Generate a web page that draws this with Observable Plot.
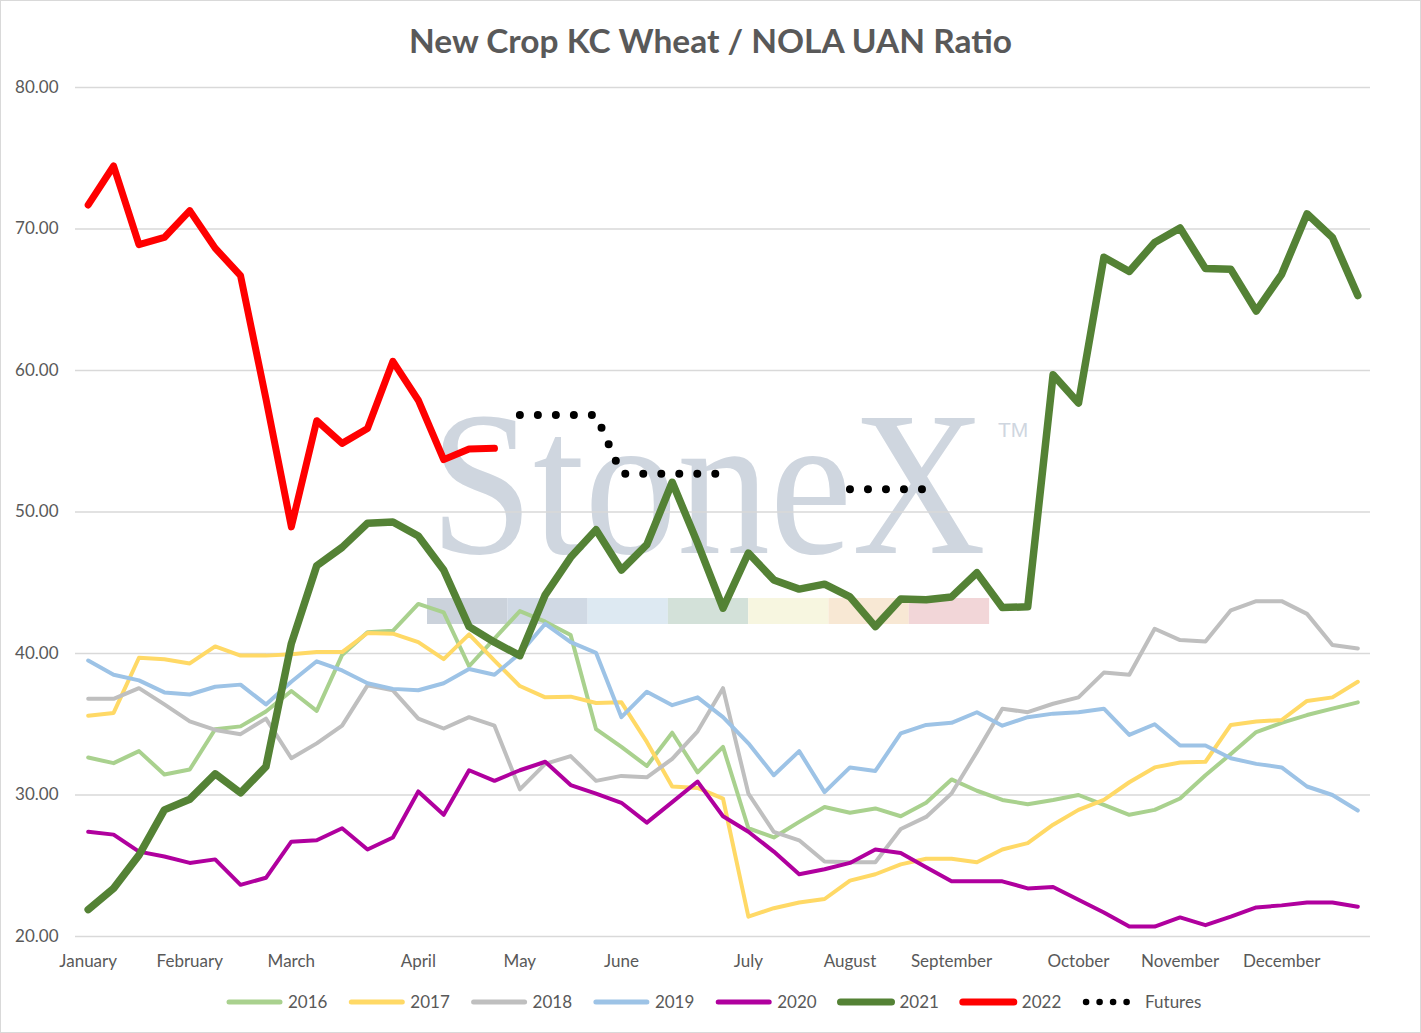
<!DOCTYPE html>
<html><head><meta charset="utf-8">
<script src="https://cdn.jsdelivr.net/npm/d3@7"></script>
<script src="https://cdn.jsdelivr.net/npm/@observablehq/plot@0.6"></script>
<style>
body{margin:0;background:#fff;}
#chart{position:relative;width:1421px;height:1033px;outline:1px solid #d9d9d9;outline-offset:-1px;overflow:hidden;font-family:Lato,sans-serif;background:#fff;}
#wm,#plot,#title,#legend{position:absolute;left:0;top:0;}
#title,#legend{pointer-events:none;}
</style></head><body>
<div id="chart">
<svg id="wm" width="1421" height="1033"></svg>
<div id="plot"></div>
<svg id="title" width="1421" height="90"></svg>
<svg id="legend" width="1421" height="1033"></svg>
</div>
<script>
const chartTitle = "New Crop KC Wheat / NOLA UAN Ratio";
const weeks = d3.range(51);
const yTicks = [20, 30, 40, 50, 60, 70, 80];
const monthTicks = [0, 4, 8, 13, 17, 21, 26, 30, 34, 39, 43, 47];
const monthLabels = ["January","February","March","April","May","June","July","August","September","October","November","December"];

const s2016 = [32.65,32.25,33.1,31.45,31.8,34.65,34.85,35.9,37.35,35.95,39.9,41.5,41.6,43.5,42.9,39.1,41.05,43.0,42.25,41.3,34.65,33.4,32.05,34.4,31.6,33.4,27.65,27.0,28.1,29.15,28.75,29.05,28.5,29.45,31.1,30.3,29.65,29.35,29.65,30.0,29.3,28.6,28.95,29.75,31.4,32.9,34.45,35.1,35.65,36.1,36.55];
const s2017 = [35.6,35.8,39.7,39.6,39.3,40.5,39.85,39.85,39.95,40.1,40.1,41.45,41.4,40.8,39.6,41.35,39.5,37.7,36.9,36.95,36.5,36.55,33.75,30.6,30.5,29.75,21.4,22.0,22.4,22.65,23.95,24.4,25.1,25.5,25.5,25.25,26.15,26.6,27.9,28.95,29.65,30.9,31.95,32.3,32.35,34.95,35.2,35.3,36.65,36.9,38.0];
const s2018 = [36.8,36.8,37.55,36.4,35.2,34.6,34.3,35.4,32.6,33.65,34.9,37.75,37.4,35.4,34.7,35.5,34.9,30.4,32.2,32.75,31.0,31.35,31.25,32.55,34.5,37.55,30.1,27.4,26.8,25.3,25.25,25.25,27.6,28.45,30.1,33.05,36.1,35.85,36.45,36.9,38.65,38.5,41.75,40.95,40.85,43.05,43.7,43.7,42.8,40.6,40.35];
const s2019 = [39.5,38.5,38.1,37.25,37.1,37.65,37.8,36.4,38.0,39.45,38.8,37.9,37.5,37.4,37.9,38.9,38.5,40.0,42.1,40.8,40.05,35.5,37.3,36.35,36.9,35.5,33.65,31.4,33.1,30.2,31.95,31.7,34.35,34.95,35.1,35.85,34.9,35.5,35.75,35.85,36.1,34.25,35.0,33.5,33.5,32.6,32.2,31.95,30.6,30.0,28.9];
const s2020 = [27.4,27.2,26.0,25.65,25.2,25.45,23.65,24.15,26.7,26.8,27.65,26.15,27.0,30.25,28.6,31.75,31.0,31.75,32.35,30.7,30.1,29.45,28.05,29.5,30.95,28.5,27.4,26.0,24.4,24.75,25.2,26.15,25.9,24.9,23.9,23.9,23.9,23.4,23.5,22.6,21.7,20.7,20.7,21.35,20.8,21.4,22.05,22.2,22.4,22.4,22.1];
const s2021 = [21.9,23.4,25.75,28.95,29.7,31.5,30.15,32.0,40.7,46.2,47.5,49.2,49.3,48.3,45.9,41.9,40.8,39.85,44.15,46.8,48.75,45.9,47.7,52.1,47.8,43.2,47.1,45.2,44.55,44.9,44.0,41.9,43.85,43.8,44.0,45.7,43.25,43.3,59.7,57.7,68.0,67.0,69.05,70.07,67.2,67.15,64.2,66.8,71.07,69.4,65.3];
const s2022 = [71.7,74.45,68.9,69.4,71.3,68.65,66.7,58.0,48.95,56.45,54.85,55.9,60.65,57.9,53.7,54.45,54.5];
const futures = [null,null,null,null,null,null,null,null,null,null,null,null,null,null,null,null,null,56.85,56.85,56.85,56.85,52.7,52.7,52.7,52.7,52.7,null,null,null,null,51.6,51.6,51.6,51.6];

const seriesNames = ["2016","2017","2018","2019","2020","2021","2022","Futures"];
const seriesColors = ["#a9d18e","#ffd966","#bfbfbf","#9dc3e6","#b0009e","#548235","#ff0000","#000000"];
const seriesData = [s2016, s2017, s2018, s2019, s2020, s2021, s2022, futures];
const seriesWidths = [4, 4, 4, 4, 4, 7.5, 7, 8];

// watermark (decoration behind the plot)
const wm = d3.select("#wm");
const barColors = ["#cbd2db","#d0d9e4","#dde9f2","#d3e1d9","#f7f6e0","#f8e8d4","#f2d6d8"];
barColors.forEach((c, k) => wm.append("rect").attr("x", 427 + k * 80.3).attr("y", 598).attr("width", 80.3).attr("height", 26).attr("fill", c));
const wmText = wm.append("text").attr("x", 0).attr("y", 0).attr("font-family", "Liberation Serif, serif").attr("font-size", 206)
  .attr("fill", "#cfd6df").text("StoneX");
const natW = wmText.node().getComputedTextLength() || 600;
wmText.attr("transform", `translate(430,553) scale(${556 / natW},1)`);
wm.append("text").attr("x", 998).attr("y", 437).attr("font-family", "Liberation Sans, sans-serif").attr("font-size", 21)
  .attr("fill", "#cfd6df").text("TM");

const marks = [
  Plot.gridY(yTicks, {stroke: "#d9d9d9", strokeOpacity: 1, strokeWidth: 1.6}),
  Plot.axisY(yTicks, {tickSize: 0, tickPadding: 17, tickFormat: d => d.toFixed(2), fill: "#595959", fontSize: 17, label: null}),
  Plot.axisX(monthTicks, {tickSize: 0, tickPadding: 18, tickFormat: d => monthLabels[monthTicks.indexOf(d)], fill: "#595959", fontSize: 17, label: null})
];
seriesData.forEach((vals, k) => {
  const isF = seriesNames[k] === "Futures";
  marks.push(Plot.line(vals, {
    x: (d, i) => i, y: d => d,
    stroke: seriesColors[k], strokeWidth: seriesWidths[k],
    strokeLinejoin: "round", strokeLinecap: "round",
    strokeDasharray: isF ? "0 18" : null
  }));
});

const plot = Plot.plot({
  width: 1421, height: 975,
  marginLeft: 75, marginRight: 51, marginTop: 87, marginBottom: 39,
  style: {background: "transparent", fontFamily: "Lato, sans-serif", fontSize: "17px", color: "#595959", overflow: "visible"},
  x: {domain: [-0.5, 50.5], axis: null},
  y: {domain: [20, 80], axis: null},
  marks
});
document.getElementById("plot").appendChild(plot);

// title
d3.select("#title").append("text").attr("x", 710.5).attr("y", 53).attr("text-anchor", "middle")
  .attr("font-family", "Lato, sans-serif").attr("font-weight", "bold").attr("font-size", 32)
  .attr("textLength", 603).attr("lengthAdjust", "spacingAndGlyphs").attr("fill", "#595959").text(chartTitle);

// legend
const lg = d3.select("#legend");
seriesNames.forEach((name, k) => {
  const x0 = 226 + k * 122.3, y0 = 1002;
  if (name === "Futures") {
    [0, 1, 2, 3].forEach(j => lg.append("circle").attr("cx", x0 + 4 + j * 13.5).attr("cy", y0).attr("r", 3.3).attr("fill", "#000"));
    lg.append("text").attr("x", x0 + 63).attr("y", y0 + 6).attr("font-family", "Lato, sans-serif").attr("font-size", 17).attr("fill", "#595959").text(name);
  } else {
    lg.append("line").attr("x1", x0 + 3).attr("x2", x0 + 54).attr("y1", y0).attr("y2", y0)
      .attr("stroke", seriesColors[k]).attr("stroke-width", k >= 5 ? 7 : 5).attr("stroke-linecap", "round");
    lg.append("text").attr("x", x0 + 62).attr("y", y0 + 6).attr("font-family", "Lato, sans-serif").attr("font-size", 17).attr("fill", "#595959").text(name);
  }
});
</script>
</body></html>
